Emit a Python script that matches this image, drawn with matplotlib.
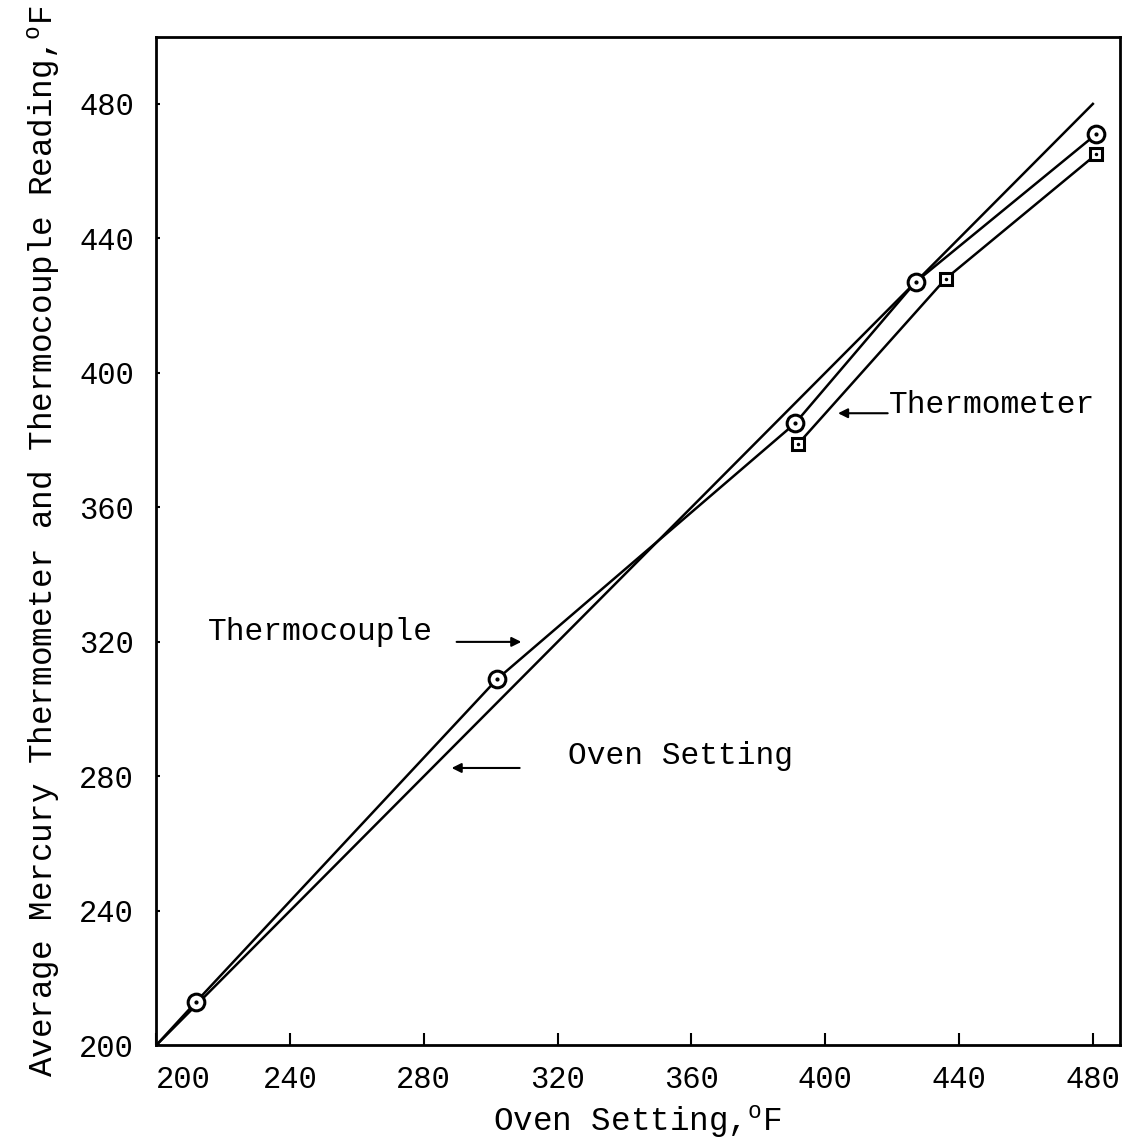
import matplotlib
matplotlib.use("Agg")
import matplotlib.pyplot as plt

plt.rcParams['font.family'] = ['Liberation Mono', 'DejaVu Sans Mono']
plt.rcParams['mathtext.fontset'] = 'custom'
plt.rcParams['mathtext.rm'] = 'Liberation Mono'
plt.rcParams['mathtext.it'] = 'Liberation Mono'

# oven setting reference line
oven_x = [200, 480]
oven_y = [200, 480]

# thermocouple readings (circles)
tc_x = [200, 212, 302, 391, 427, 481]
tc_y = [200, 213, 309, 385, 427, 471]

# mercury thermometer readings (squares)
tm_x = [392, 436, 481]
tm_y = [379, 428, 465]

ticks = [200, 240, 280, 320, 360, 400, 440, 480]

fig = plt.figure(figsize=(11.23, 11.45), dpi=100)
ax = fig.add_axes([0.139, 0.087, 0.858, 0.881])

ax.plot(oven_x, oven_y, color='black', lw=1.8)
ax.plot(tc_x, tc_y, color='black', lw=1.8)
ax.plot(tc_x[1:], tc_y[1:], ls='none', marker='o', ms=12, mfc='white', mec='black', mew=2.2)
ax.plot(tc_x[1:], tc_y[1:], ls='none', marker='.', ms=4, color='black')
ax.plot(tm_x, tm_y, color='black', lw=1.8)
ax.plot(tm_x, tm_y, ls='none', marker='s', ms=8.5, mfc='white', mec='black', mew=2.2)
ax.plot(tm_x, tm_y, ls='none', marker='.', ms=3, color='black')

ax.set_xlim(200, 488)
ax.set_ylim(200, 500)
ax.set_xticks(ticks)
ax.set_yticks(ticks)
ax.tick_params(axis='x', direction='in', length=9, width=1.5, pad=14, labelsize=22)
ax.tick_params(axis='y', direction='in', length=3, width=1.5, pad=16, labelsize=22)
ax.get_xticklabels()[0].set_horizontalalignment('left')
for s in ax.spines.values():
    s.set_linewidth(2)

ax.set_xlabel("Oven Setting,$^{\\mathrm{o}}$F", fontsize=23.5, labelpad=6)
ax.set_ylabel("Average Mercury Thermometer and Thermocouple Reading,$^{\\mathrm{o}}$F",
              fontsize=23.5, labelpad=12)

arrow = dict(arrowstyle='-|>', color='black', lw=1.5, mutation_scale=14)
ax.text(215.5, 323, "Thermocouple", fontsize=22.5, va='center', ha='left')
ax.annotate("", xy=(310, 320), xytext=(289, 320), arrowprops=arrow)
ax.text(323, 286, "Oven Setting", fontsize=22.5, va='center', ha='left')
ax.annotate("", xy=(287.5, 282.5), xytext=(309.5, 282.5), arrowprops=arrow)
ax.text(419, 390.5, "Thermometer", fontsize=22.5, va='center', ha='left')
ax.annotate("", xy=(403, 388), xytext=(419.5, 388), arrowprops=arrow)

fig.savefig("out.png", dpi=100)
